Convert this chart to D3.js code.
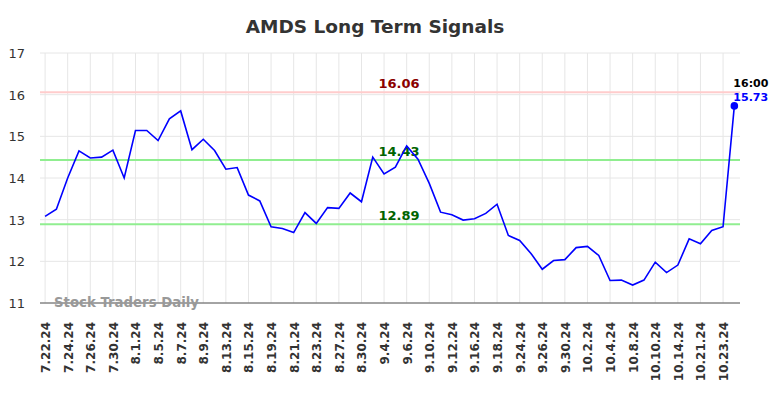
<!DOCTYPE html>
<html>

<head>
    <meta charset="utf-8">
    <title>AMDS Long Term Signals</title>
    <script src="https://d3js.org/d3.v7.min.js"></script>
    <style>
        body { margin: 0; background: #fff; }
        text { font-family: "DejaVu Sans", sans-serif; }
    </style>
</head>

<body>
    <div id="chart"></div>

    <script>
        const tickLabels = ["7.22.24", "7.24.24", "7.26.24", "7.30.24", "8.1.24", "8.5.24", "8.7.24", "8.9.24",
            "8.13.24", "8.15.24", "8.19.24", "8.21.24", "8.23.24", "8.27.24", "8.30.24", "9.4.24", "9.6.24",
            "9.10.24", "9.12.24", "9.16.24", "9.18.24", "9.24.24", "9.26.24", "9.30.24", "10.2.24", "10.4.24",
            "10.8.24", "10.10.24", "10.14.24", "10.21.24", "10.23.24"];

        const prices = [13.08, 13.25, 14.0, 14.65, 14.48, 14.5, 14.67, 14.0, 15.14, 15.14,
            14.9, 15.42, 15.61, 14.68, 14.93, 14.66, 14.21, 14.25, 13.59, 13.45,
            12.83, 12.79, 12.69, 13.17, 12.91, 13.29, 13.27, 13.64, 13.43, 14.5,
            14.1, 14.26, 14.77, 14.45, 13.87, 13.18, 13.12, 12.99, 13.02, 13.15,
            13.37, 12.62, 12.5, 12.19, 11.81, 12.02, 12.04, 12.33, 12.36, 12.14,
            11.54, 11.55, 11.43, 11.55, 11.98, 11.73, 11.91, 12.54, 12.42, 12.74,
            12.83, 15.73];

        const levels = [
            { value: 16.06, line: "#ffcccc", text: "#8b0000" },
            { value: 14.43, line: "#90ee90", text: "#006400" },
            { value: 12.89, line: "#90ee90", text: "#006400" }
        ];
        const yTicks = [11, 12, 13, 14, 15, 16, 17];

        const W = 784, H = 398;
        const margin = { top: 53, right: 44, bottom: 95, left: 40 };
        const width = W - margin.left - margin.right;
        const height = H - margin.top - margin.bottom;

        const svg = d3.select("#chart").append("svg")
            .attr("width", W).attr("height", H);

        svg.append("text")
            .attr("x", 375).attr("y", 33)
            .attr("text-anchor", "middle")
            .style("font-size", "18.5px").style("font-weight", "bold").style("fill", "#333")
            .text("AMDS Long Term Signals");

        const g = svg.append("g").attr("transform", `translate(${margin.left},${margin.top})`);

        const x = d3.scaleLinear().domain([-0.45, prices.length - 1 + 0.5]).range([0, width]);
        const y = d3.scaleLinear().domain([11, 17]).range([height, 0]);

        // grid
        g.selectAll(".hgrid").data(yTicks).enter().append("line")
            .attr("x1", 0).attr("x2", width)
            .attr("y1", d => y(d)).attr("y2", d => y(d))
            .attr("stroke", "#e6e6e6").attr("stroke-width", 1);

        g.selectAll(".vgrid").data(tickLabels).enter().append("line")
            .attr("x1", (d, i) => x(i * 2)).attr("x2", (d, i) => x(i * 2))
            .attr("y1", 0).attr("y2", height)
            .attr("stroke", "#e6e6e6").attr("stroke-width", 1);

        // y labels
        g.selectAll(".ylab").data(yTicks).enter().append("text")
            .attr("x", -15).attr("y", d => y(d) + 5)
            .attr("text-anchor", "end")
            .style("font-size", "13px").style("fill", "#333")
            .text(d => d);

        // x labels
        g.selectAll(".xlab").data(tickLabels).enter().append("text")
            .attr("transform", (d, i) => `translate(${x(i * 2) + 5},${height + 19}) rotate(-90)`)
            .attr("text-anchor", "end")
            .style("font-size", "12px").style("font-weight", "bold").style("fill", "#333")
            .text(d => d);

        // signal levels
        levels.forEach(l => {
            g.append("line")
                .attr("x1", 0).attr("x2", width)
                .attr("y1", y(l.value)).attr("y2", y(l.value))
                .attr("stroke", l.line).attr("stroke-width", 2);
            g.append("text")
                .attr("x", 359).attr("y", y(l.value) - 4)
                .attr("text-anchor", "middle")
                .style("font-size", "13px").style("font-weight", "bold").style("fill", l.text)
                .text(l.value.toFixed(2));
        });

        // axis line
        g.append("line")
            .attr("x1", 0).attr("x2", width)
            .attr("y1", height).attr("y2", height)
            .attr("stroke", "#555").attr("stroke-width", 1);

        // watermark
        g.append("text")
            .attr("x", 14).attr("y", height + 4)
            .style("font-size", "13.3px").style("font-weight", "bold").style("fill", "#999")
            .text("Stock Traders Daily");

        // price line
        const line = d3.line().x((d, i) => x(i)).y(d => y(d));
        g.append("path").datum(prices)
            .attr("d", line)
            .attr("fill", "none").attr("stroke", "#0000ff").attr("stroke-width", 1.6);

        const last = prices.length - 1;
        g.append("circle")
            .attr("cx", x(last)).attr("cy", y(prices[last])).attr("r", 3.8)
            .attr("fill", "#0000ff");

        g.append("text")
            .attr("x", x(last) - 1).attr("y", y(prices[last]) - 19)
            .style("font-size", "11px").style("font-weight", "bold").style("fill", "#000")
            .text("16:00");
        g.append("text")
            .attr("x", x(last) - 1).attr("y", y(prices[last]) - 5)
            .style("font-size", "11px").style("font-weight", "bold").style("fill", "#0000ff")
            .text(prices[last].toFixed(2));
    </script>
</body>

</html>
